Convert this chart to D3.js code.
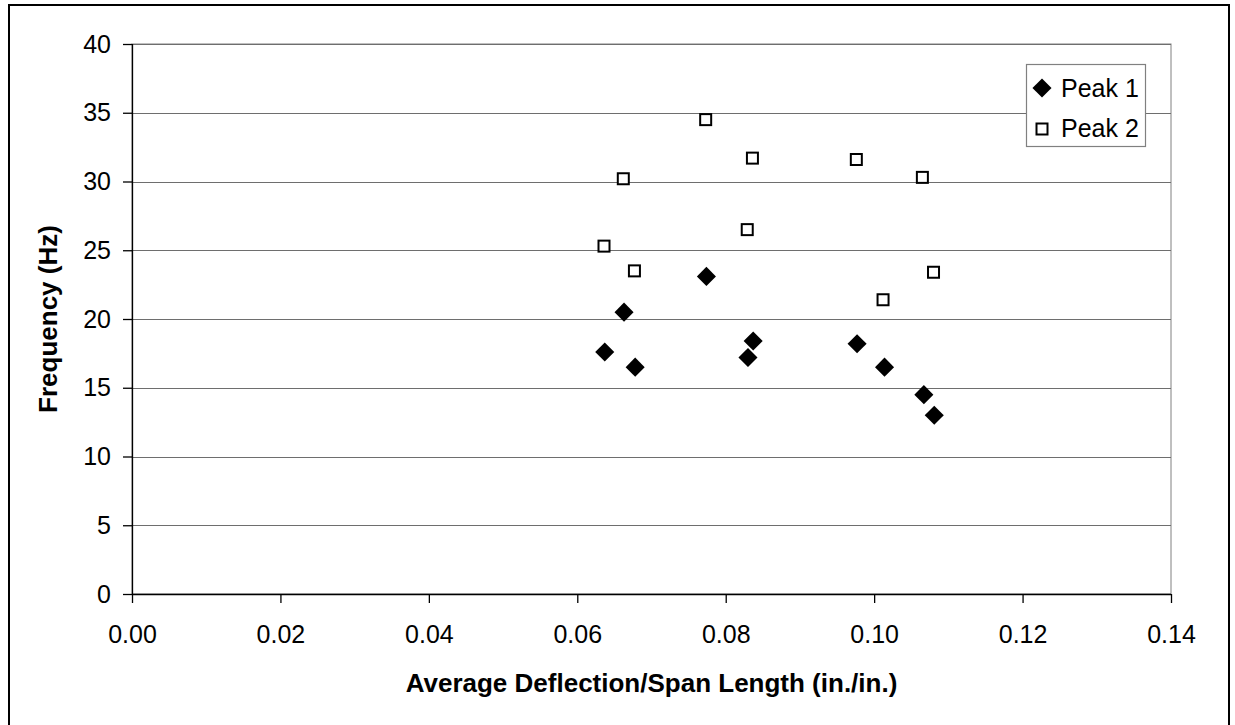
<!DOCTYPE html>
<html>
<head>
<meta charset="utf-8">
<script src="https://cdn.jsdelivr.net/npm/d3@7"></script>
<style>
  html, body { margin: 0; padding: 0; background: #fff; }
  svg { display: block; }
  text { font-family: "Liberation Sans", Arial, sans-serif; fill: #000; }
</style>
</head>
<body>
<svg id="chart" width="1235" height="725"></svg>
<script>
// ---- data ----
const peak1X = [0.0637, 0.0663, 0.0678, 0.0774, 0.0830, 0.0837, 0.0977, 0.1014, 0.1067, 0.1081];
const peak1Y = [17.6, 20.5, 16.5, 23.1, 17.2, 18.4, 18.2, 16.5, 14.5, 13.0];
const peak2X = [0.0636, 0.0662, 0.0677, 0.0773, 0.0829, 0.0836, 0.0976, 0.1012, 0.1065, 0.1080];
const peak2Y = [25.3, 30.2, 23.5, 34.5, 26.5, 31.7, 31.6, 21.4, 30.3, 23.4];
const xTicks = [0, 0.02, 0.04, 0.06, 0.08, 0.10, 0.12, 0.14];
const yTicks = [0, 5, 10, 15, 20, 25, 30, 35, 40];
const seriesNames = ["Peak 1", "Peak 2"];
const xTitle = "Average Deflection/Span Length (in./in.)";
const yTitle = "Frequency (Hz)";

// ---- layout ----
const svg = d3.select("#chart");
const L = 132, R = 1171, T = 44, B = 594;
const x = d3.scaleLinear().domain([0, 0.14]).range([L, R]);
const y = d3.scaleLinear().domain([0, 40]).range([B, T]);

// outer border
svg.append("rect").attr("x", 9).attr("y", 5).attr("width", 1220).attr("height", 740)
  .attr("fill", "#fff").attr("stroke", "#000").attr("stroke-width", 2);

// plot area border (gray)
svg.append("rect").attr("x", L).attr("y", T).attr("width", R - L).attr("height", B - T)
  .attr("fill", "none").attr("stroke", "#808080").attr("stroke-width", 1);

// gridlines
svg.append("g").selectAll("line").data(yTicks.filter(d => d > 0)).join("line")
  .attr("x1", L).attr("x2", R)
  .attr("y1", d => Math.round(y(d)) + 0.5).attr("y2", d => Math.round(y(d)) + 0.5)
  .attr("stroke", "#6e6e6e").attr("stroke-width", 1.2);

// y axis
const yAxis = svg.append("g").attr("transform", `translate(${L},0)`)
  .call(d3.axisLeft(y).tickValues(yTicks).tickSize(9).tickPadding(12).tickFormat(d3.format("d")));
// x axis
const xAxis = svg.append("g").attr("transform", `translate(0,${B})`)
  .call(d3.axisBottom(x).tickValues(xTicks).tickSize(9).tickPadding(22).tickFormat(d3.format(".2f")));

[yAxis, xAxis].forEach(g => {
  g.select(".domain").attr("stroke", "#000").attr("stroke-width", 1.3);
  g.selectAll(".tick line").attr("stroke", "#000").attr("stroke-width", 1.3);
  g.selectAll(".tick text").attr("font-size", 25).attr("fill", "#000")
    .style("font-family", '"Liberation Sans", Arial, sans-serif');
});
yAxis.select(".domain").attr("d", `M0.5,${T}V${B}`);
xAxis.select(".domain").attr("d", `M${L},0.5H${R}`);

// axis titles
svg.append("text").attr("x", (L + R) / 2).attr("y", 692)
  .attr("text-anchor", "middle").attr("font-size", 26).attr("font-weight", "bold").text(xTitle);
svg.append("text").attr("transform", `translate(57,${(T + B) / 2}) rotate(-90)`)
  .attr("text-anchor", "middle").attr("font-size", 26).attr("font-weight", "bold").text(yTitle);

// markers
const diamond = d3.symbol().type(d3.symbolSquare).size(182);
const p1 = peak1X.map((v, i) => ({ x: v, y: peak1Y[i] }));
const p2 = peak2X.map((v, i) => ({ x: v, y: peak2Y[i] }));

svg.append("g").selectAll("path").data(p1).join("path")
  .attr("d", diamond)
  .attr("transform", d => `translate(${x(d.x)},${y(d.y)}) rotate(45)`)
  .attr("fill", "#000");

svg.append("g").selectAll("rect").data(p2).join("rect")
  .attr("x", d => x(d.x) - 5.5).attr("y", d => y(d.y) - 5.5)
  .attr("width", 11).attr("height", 11)
  .attr("fill", "#fff").attr("stroke", "#000").attr("stroke-width", 2);

// legend
const lg = svg.append("g");
lg.append("rect").attr("x", 1026.5).attr("y", 64.5).attr("width", 119).attr("height", 82)
  .attr("fill", "#fff").attr("stroke", "#808080").attr("stroke-width", 1.2);
lg.append("path").attr("d", diamond).attr("transform", "translate(1042,88) rotate(45)").attr("fill", "#000");
lg.append("rect").attr("x", 1036.5).attr("y", 123.5).attr("width", 11).attr("height", 11)
  .attr("fill", "#fff").attr("stroke", "#000").attr("stroke-width", 2);
lg.append("text").attr("x", 1061).attr("y", 97).attr("font-size", 25).text(seriesNames[0]);
lg.append("text").attr("x", 1061).attr("y", 137).attr("font-size", 25).text(seriesNames[1]);
</script>
</body>
</html>
